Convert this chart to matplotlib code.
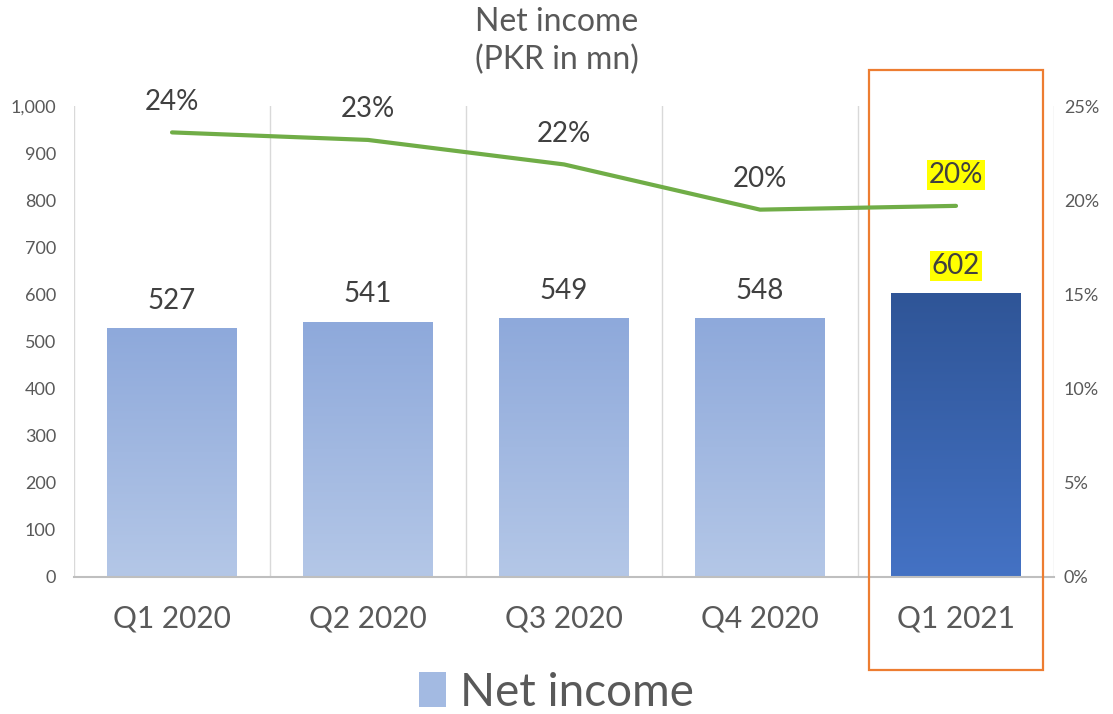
import numpy as np
import matplotlib
matplotlib.use("Agg")
import matplotlib.pyplot as plt
from matplotlib.patches import Rectangle, Patch
from matplotlib.ticker import FuncFormatter

plt.rcParams['font.family'] = ['Lato', 'DejaVu Sans']

# data
quarters = ["Q1 2020", "Q2 2020", "Q3 2020", "Q4 2020", "Q1 2021"]
net_income = [527, 541, 549, 548, 602]
margin = [0.236, 0.232, 0.219, 0.195, 0.197]
margin_labels = ["24%", "23%", "22%", "20%", "20%"]
highlight = 4

TXT = "#404040"
TICK = "#595959"

fig = plt.figure(figsize=(11.13, 7.14), dpi=100)
ax = fig.add_axes([0.0665, 0.1919, 0.8805, 0.6596])
ax2 = ax.twinx()

x = np.arange(len(quarters))
bars = ax.bar(x, net_income, width=0.66, color="none", zorder=2)

# gradient fill for every bar (top darker, bottom lighter)
grad = np.linspace(0, 1, 256).reshape(-1, 1)
for i, b in enumerate(bars):
    if i == highlight:
        cmap = matplotlib.colors.LinearSegmentedColormap.from_list("hi", ["#2F5597", "#4472C4"])
    else:
        cmap = matplotlib.colors.LinearSegmentedColormap.from_list("lo", ["#8EA9DB", "#B4C7E7"])
    x0, y0 = b.get_x(), b.get_y()
    ax.imshow(grad, cmap=cmap, aspect="auto", zorder=2,
              extent=(x0, x0 + b.get_width(), y0, y0 + b.get_height()))

ax.set_xlim(-0.5, len(quarters) - 0.5)
ax.set_ylim(0, 1000)
ax.set_yticks(range(0, 1001, 100))
ax.yaxis.set_major_formatter(FuncFormatter(lambda v, p: f"{int(v):,}"))
ax.set_xticks(x)
ax.set_xticklabels(quarters, fontsize=21.5, color=TICK)
ax.tick_params(axis="x", length=0, pad=20)
ax.tick_params(axis="y", length=0, pad=13, labelsize=13, labelcolor=TICK)

# vertical separators between categories
for v in np.arange(-0.5, len(quarters), 1.0):
    ax.axvline(v, color="#D9D9D9", lw=1, zorder=0)

for s in ["top", "right", "left"]:
    ax.spines[s].set_visible(False)
    ax2.spines[s].set_visible(False)
ax.spines["bottom"].set_color("#BFBFBF")
ax.spines["bottom"].set_linewidth(1.5)
ax2.spines["bottom"].set_visible(False)

# bar labels
for i, (xi, v) in enumerate(zip(x, net_income)):
    box = dict(facecolor="#FFFF00", edgecolor="none", pad=1.5) if i == highlight else None
    ax.annotate(str(v), (xi, v), xytext=(0, 20), textcoords="offset points",
                ha="center", va="center", fontsize=20, color=TXT, bbox=box, zorder=5)

# margin line
ax2.plot(x, margin, color="#70AD47", lw=3, solid_capstyle="round", zorder=4)
ax2.set_ylim(0, 0.25)
ax2.set_yticks(np.arange(0, 0.251, 0.05))
ax2.yaxis.set_major_formatter(FuncFormatter(lambda v, p: f"{v * 100:.0f}%"))
ax2.tick_params(axis="y", length=0, pad=7, labelsize=13, labelcolor=TICK)
for i, (xi, m, lab) in enumerate(zip(x, margin, margin_labels)):
    box = dict(facecolor="#FFFF00", edgecolor="none", pad=1.5) if i == highlight else None
    ax2.annotate(lab, (xi, m), xytext=(0, 22), textcoords="offset points",
                 ha="center", va="center", fontsize=20, color=TXT, bbox=box)

# orange highlight frame round the last quarter
ax.add_patch(Rectangle((highlight - 0.445, -198), 0.89, 1274, fill=False,
                       edgecolor="#ED7D31", lw=1.6, clip_on=False, zorder=6))

fig.text(0.5, 0.969, "Net income", ha="center", va="center", fontsize=23, color=TICK)
fig.text(0.5, 0.916, "(PKR in mn)", ha="center", va="center", fontsize=23, color=TICK)

fig.legend(handles=[Patch(facecolor="#A3BAE2", edgecolor="none", label="Net income")],
           loc="center", bbox_to_anchor=(0.5, 0.03), frameon=False, fontsize=33,
           labelcolor=TICK, handlelength=0.6, handleheight=0.8, handletextpad=0.3)

fig.savefig("out.png", dpi=100)
